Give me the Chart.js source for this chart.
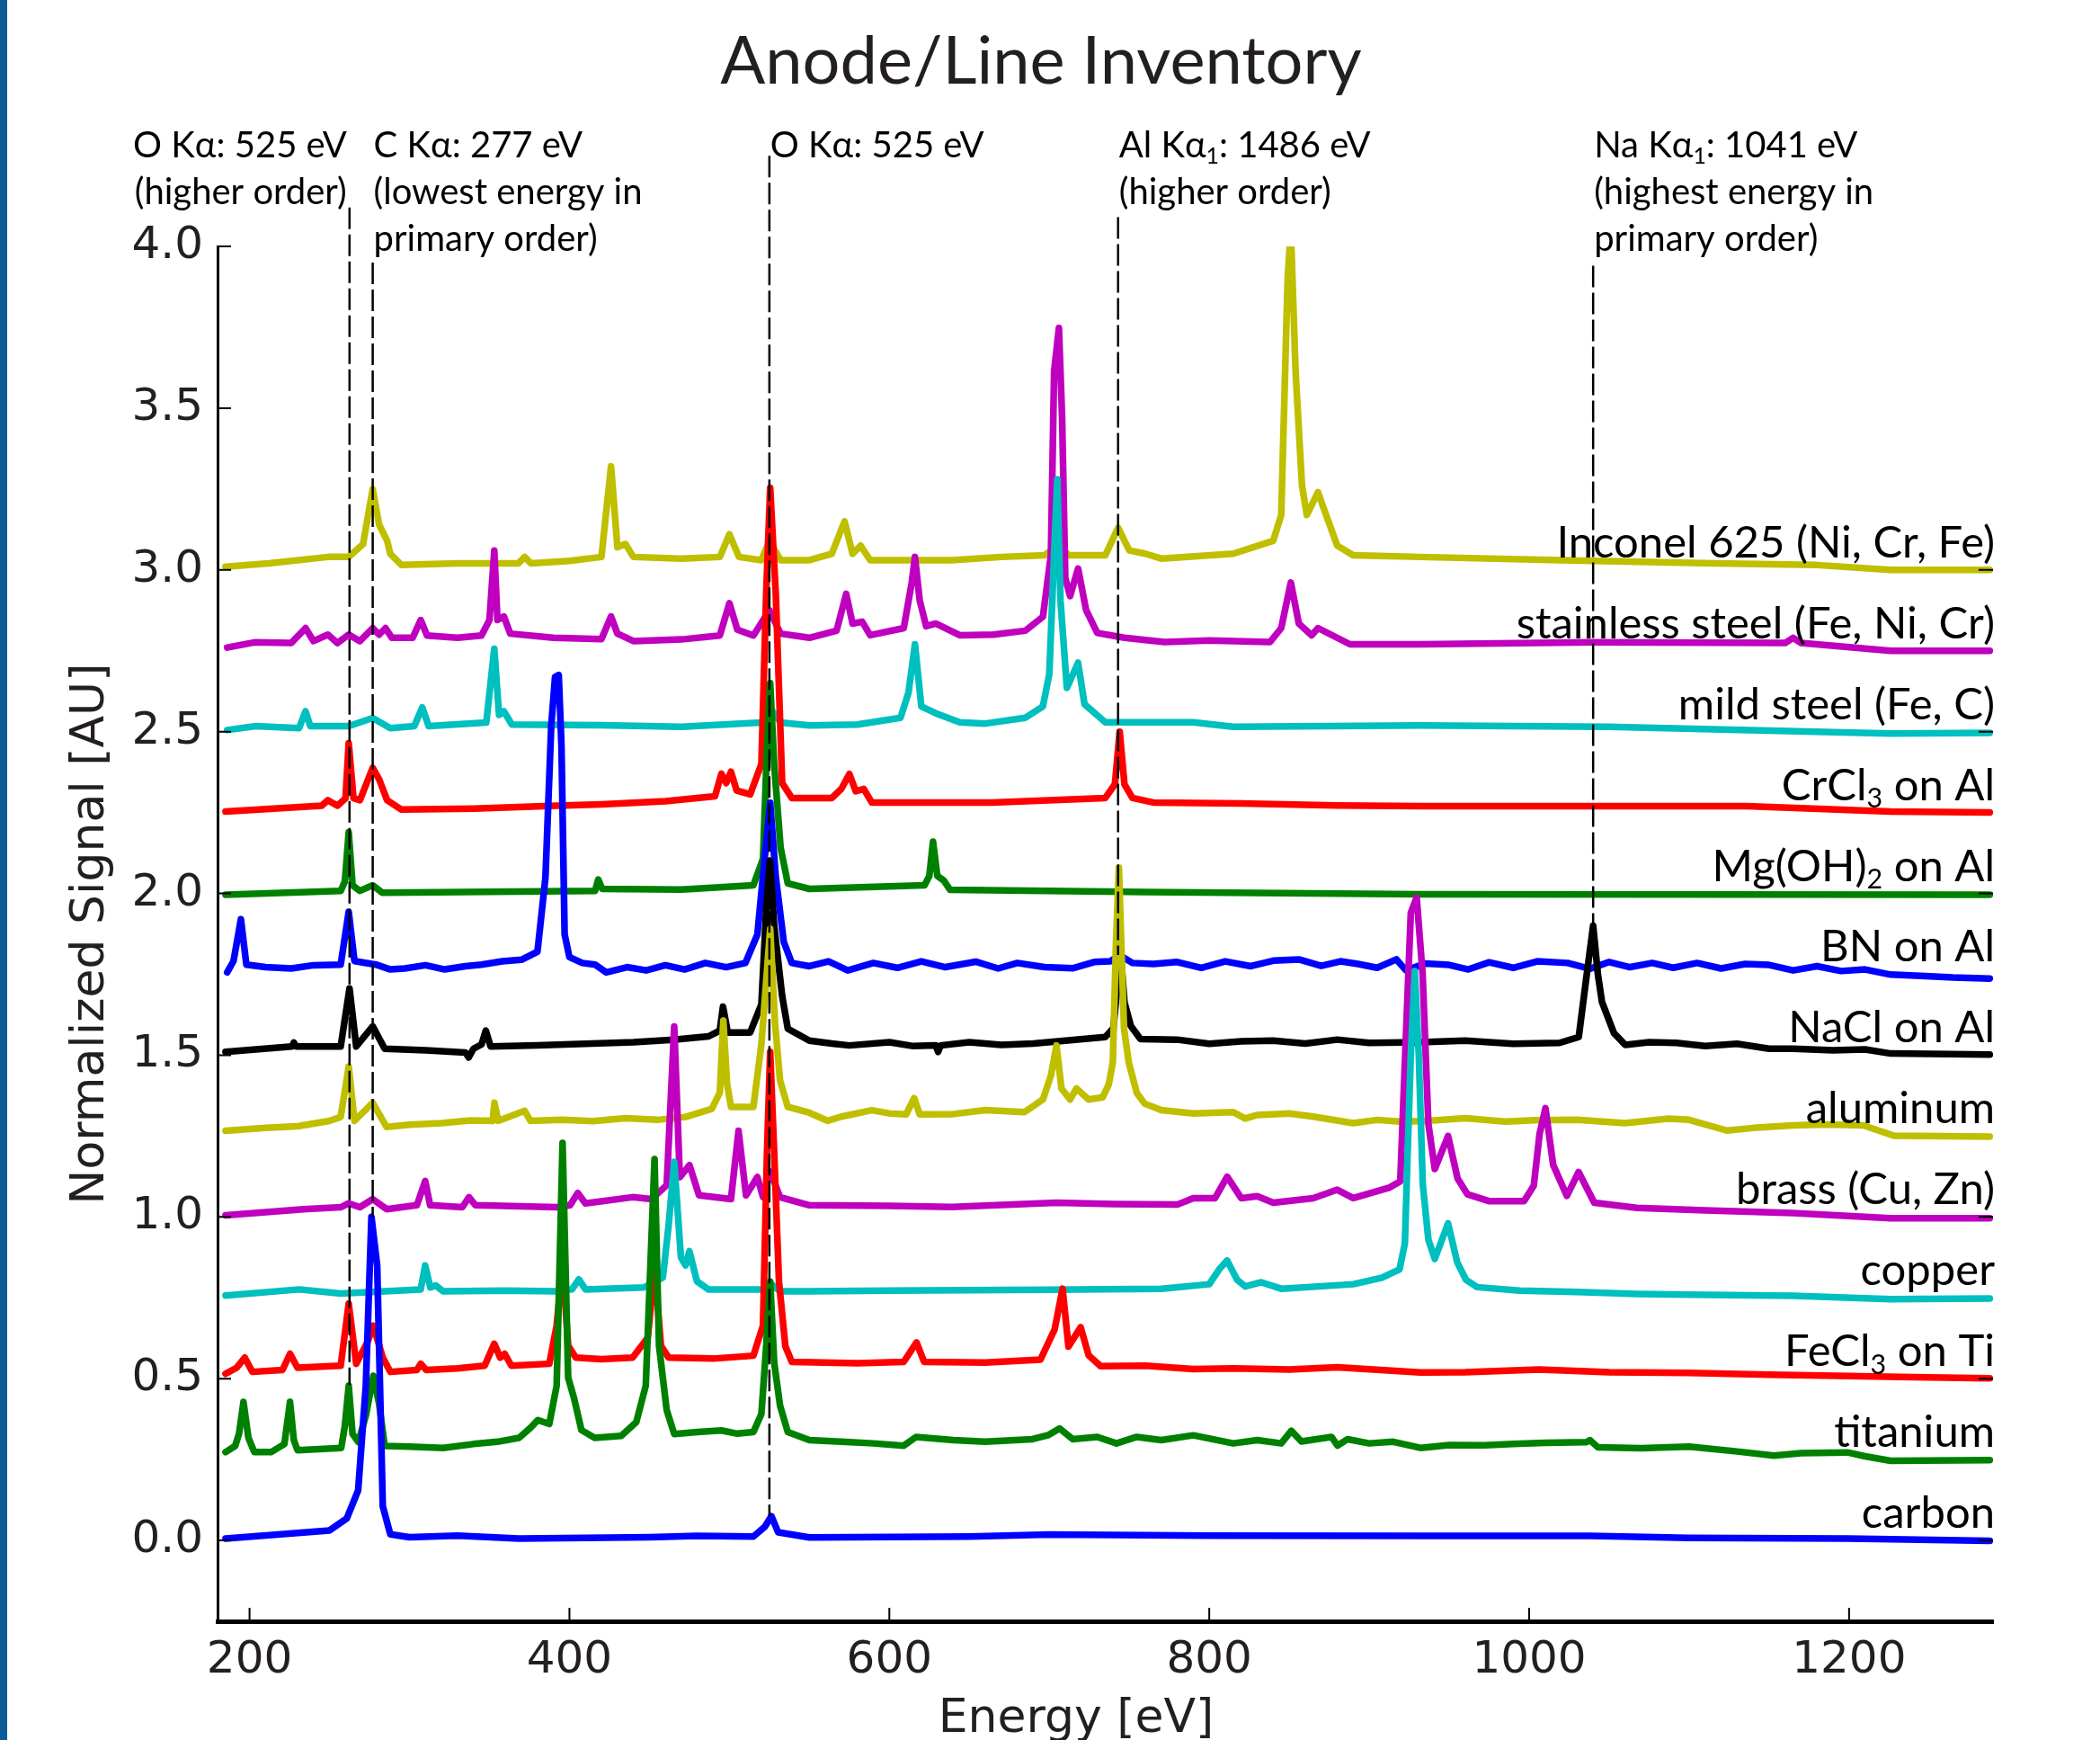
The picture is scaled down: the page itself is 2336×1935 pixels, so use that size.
<!DOCTYPE html>
<html>
<head>
<meta charset="utf-8">
<title>Anode/Line Inventory</title>
<script src="https://cdn.jsdelivr.net/npm/chart.js@4.4.1/dist/chart.umd.min.js"></script>
<style>
    html, body { margin: 0; padding: 0; background: #fff; }
    #wrap { position: relative; width: 2336px; height: 1935px; overflow: hidden; }
    #edge { position: absolute; left: 0; top: 0; width: 8px; height: 1935px; background: #0d5b97; }
    canvas { position: absolute; left: 0; top: 0; }
</style>
</head>
<body>
<div id="wrap">
    <canvas id="inventoryChart" width="2336" height="1935"></canvas>
    <div id="edge"></div>
</div>
<script>
// spectra as [energy eV, normalized signal] (offsets included)
const inconel = [[185,3.01],[212,3.02],[249,3.04],[262,3.04],[271,3.08],[277,3.25],[281,3.14],[286,3.09],[288,3.05],[295,3.015],
    [330,3.02],[368,3.02],[372,3.04],[376,3.02],[400,3.028],[420,3.04],[426,3.32],[430,3.07],[435,3.08],[440,3.04],[470,3.035],
    [494,3.04],[500,3.11],[506,3.04],[520,3.03],[525,3.09],[532,3.03],[550,3.03],[564,3.05],[572,3.15],[577,3.05],[582,3.075],
    [588,3.03],[639,3.03],[670,3.04],[697,3.045],[706,3.08],[712,3.045],[735,3.045],[743,3.13],[750,3.06],[760,3.05],[770,3.035],
    [815,3.05],[840,3.09],[845,3.17],[849,3.9],[851,4.05],[854,3.61],[858,3.26],[861,3.17],[868,3.24],[873,3.17],[880,3.075],
    [890,3.045],[932,3.04],[1020,3.03],[1116,3.02],[1180,3.015],[1226,3.0],[1288,3.0]];
const stainless = [[186,2.76],[203,2.776],[226,2.774],[235,2.82],[240,2.78],[249,2.8],[255,2.774],[262,2.8],[269,2.78],[277,2.82],
    [281,2.8],[285,2.82],[289,2.79],[302,2.79],[307,2.845],[311,2.797],[330,2.79],[345,2.797],[350,2.845],[353,3.06],[355,2.845],
    [359,2.856],[363,2.803],[390,2.79],[420,2.786],[426,2.856],[430,2.803],[440,2.78],[470,2.785],[494,2.797],[500,2.897],
    [505,2.815],[515,2.797],[525,2.875],[532,2.803],[550,2.79],[567,2.812],[573,2.926],[577,2.834],[583,2.84],[588,2.798],
    [609,2.82],[614,2.961],[616,3.04],[619,2.905],[623,2.826],[629,2.834],[644,2.798],[665,2.8],[685,2.812],[696,2.855],
    [701,3.046],[703,3.614],[706,3.748],[708,3.472],[710,2.975],[713,2.919],[718,3.004],[723,2.876],[730,2.805],[747,2.79],
    [772,2.777],[800,2.782],[838,2.777],[845,2.82],[851,2.961],[856,2.834],[864,2.798],[868,2.82],[888,2.77],[932,2.77],
    [1040,2.776],[1160,2.774],[1165,2.79],[1170,2.774],[1226,2.75],[1288,2.75]];
const mildSteel = [[186,2.505],[204,2.517],[231,2.511],[235,2.563],[238,2.517],[262,2.517],[277,2.542],[288,2.511],[303,2.517],
    [308,2.575],[312,2.517],[348,2.528],[353,2.756],[356,2.552],[359,2.563],[364,2.522],[420,2.52],[470,2.515],[520,2.528],
    [526,2.569],[532,2.528],[550,2.519],[580,2.522],[607,2.543],[612,2.621],[616,2.77],[620,2.578],[629,2.557],[644,2.529],
    [660,2.525],[685,2.543],[696,2.578],[700,2.678],[703,3.046],[705,3.28],[707,2.905],[711,2.635],[718,2.713],[722,2.585],
    [735,2.529],[790,2.529],[815,2.515],[932,2.519],[1050,2.515],[1226,2.494],[1288,2.496]];
const crcl3 = [[185,2.253],[245,2.271],[249,2.288],[255,2.271],[260,2.294],[262,2.464],[265,2.294],[269,2.288],[277,2.388],
    [281,2.353],[286,2.288],[295,2.259],[340,2.262],[392,2.271],[420,2.275],[460,2.285],[491,2.3],[495,2.37],[498,2.341],
    [501,2.376],[504.5,2.318],[513,2.306],[520,2.4],[523,2.926],[525.5,3.254],[529,2.926],[533,2.341],[539,2.295],[564,2.295],
    [570,2.323],[575,2.369],[579,2.316],[584,2.323],[589,2.281],[664,2.281],[735,2.295],[741,2.337],[744,2.5],[747,2.337],
    [752,2.295],[765,2.281],[820,2.278],[880,2.272],[932,2.27],[1136,2.27],[1226,2.253],[1288,2.25]];
const mgoh2 = [[185,1.996],[257,2.008],[259.6,2.037],[262,2.189],[264.4,2.025],[269,2.008],[277,2.025],[283,2.002],[350,2.005],
    [416,2.008],[418,2.043],[420.5,2.014],[470,2.012],[515,2.025],[521,2.107],[523.5,2.45],[525.5,2.65],[528,2.4],[532,2.142],
    [536.5,2.031],[550,2.014],[622,2.025],[625,2.054],[627.3,2.16],[630,2.054],[634,2.04],[638,2.011],[760,2.004],[932,1.997],
    [1288,1.996]];
const bn = [[186,1.756],[190,1.791],[194.6,1.92],[198,1.78],[210,1.772],[226,1.768],[240,1.778],[257,1.78],[262,1.943],
    [265.6,1.791],[279,1.78],[288,1.765],[297,1.768],[310,1.778],[322,1.765],[335,1.775],[345,1.78],[358,1.79],[370,1.795],
    [380,1.82],[385,2.049],[388.6,2.517],[391,2.669],[393.3,2.675],[395,2.458],[397,1.873],[400,1.803],[408,1.785],[416,1.78],
    [423,1.756],[436,1.772],[448,1.762],[460,1.778],[472,1.765],[485,1.785],[498,1.772],[510,1.785],[517.5,1.873],[522,2.107],
    [525.5,2.28],[529,2.05],[534,1.85],[539,1.785],[550,1.775],[562,1.79],[574,1.762],[590,1.785],[605,1.77],[620,1.79],
    [635,1.772],[654,1.789],[668,1.768],[680,1.785],[697,1.772],[715,1.769],[728,1.788],[738,1.79],[744,1.809],[752,1.785],
    [765,1.782],[780,1.788],[795,1.77],[810,1.79],[826,1.775],[840,1.792],[856,1.796],[870,1.776],[882,1.79],[893,1.782],
    [905,1.77],[917,1.796],[923,1.762],[935,1.783],[950,1.779],[962,1.765],[975,1.787],[990,1.77],[1005,1.79],[1024,1.785],
    [1038,1.767],[1050,1.788],[1063,1.772],[1077,1.785],[1090,1.77],[1105,1.785],[1120,1.768],[1135,1.782],[1150,1.779],
    [1165,1.762],[1180,1.775],[1195,1.76],[1210,1.765],[1226,1.749],[1245,1.745],[1265,1.74],[1288,1.737]];
const nacl = [[185,1.51],[226.5,1.527],[227.7,1.539],[229,1.527],[257,1.527],[262.5,1.706],[266.7,1.527],[277,1.589],
    [284.5,1.52],[310,1.515],[335,1.508],[337,1.493],[340,1.52],[345,1.533],[347.7,1.576],[350.7,1.527],[380,1.53],[410,1.535],
    [440,1.54],[465,1.548],[487,1.558],[494,1.576],[496,1.65],[499,1.57],[513,1.57],[520,1.657],[523,1.95],[525.3,2.1],[528,1.9],
    [533,1.682],[536.5,1.582],[550,1.545],[564,1.536],[575,1.53],[600,1.54],[615,1.528],[629,1.53],[630.5,1.51],[632,1.53],
    [650,1.54],[670,1.532],[690,1.536],[735,1.556],[740,1.583],[742.7,1.716],[744.7,1.809],[747,1.663],[751,1.59],[757,1.55],
    [780,1.548],[800,1.535],[820,1.543],[840,1.545],[860,1.536],[880,1.548],[900,1.538],[932,1.54],[960,1.545],[990,1.535],
    [1019,1.538],[1031,1.556],[1036,1.749],[1040,1.9],[1043,1.749],[1045.5,1.665],[1053,1.568],[1060,1.532],[1075,1.54],
    [1092,1.538],[1110,1.528],[1130,1.535],[1150,1.52],[1165,1.52],[1190,1.515],[1210,1.518],[1226,1.505],[1288,1.502]];
const aluminum = [[185,1.266],[210,1.275],[230,1.28],[250,1.297],[257,1.309],[262,1.465],[265.6,1.297],[277,1.353],[285.7,1.278],
    [300,1.285],[320,1.29],[338,1.298],[352,1.297],[353.1,1.353],[355.5,1.297],[372,1.328],[375.6,1.297],[395,1.3],[415,1.296],
    [435,1.305],[455,1.3],[472.6,1.309],[489,1.334],[494,1.384],[496.2,1.607],[498.6,1.409],[501,1.34],[515,1.34],[520,1.533],
    [525.5,1.89],[528.5,1.6],[531.7,1.421],[536.5,1.34],[550,1.322],[561.5,1.297],[570,1.31],[589,1.33],[600,1.32],
    [610.5,1.317],[615.5,1.367],[619,1.317],[640,1.318],[660,1.33],[684.5,1.324],[696,1.363],[701,1.437],[704.5,1.53],
    [707.6,1.397],[713,1.363],[717,1.397],[724.6,1.363],[733.4,1.37],[737.2,1.41],[739.7,1.477],[741.7,1.849],[743.5,2.08],
    [746.7,1.583],[749.7,1.477],[754.7,1.383],[759.7,1.35],[770,1.33],[790,1.32],[815,1.324],[822.5,1.304],[830,1.315],
    [850,1.32],[865,1.31],[890,1.29],[905,1.3],[921,1.294],[940,1.298],[960,1.305],[985,1.295],[1004,1.299],[1030,1.3],
    [1060,1.29],[1087,1.304],[1100,1.3],[1123.6,1.267],[1140,1.275],[1165,1.283],[1185,1.286],[1209,1.283],[1228,1.251],
    [1288,1.248]];
const brass = [[185,1.005],[233.6,1.024],[257,1.03],[262,1.042],[269,1.03],[277,1.055],[285.7,1.024],[304.6,1.036],
    [309.8,1.111],[312.9,1.036],[333,1.03],[337.2,1.061],[341.3,1.036],[392,1.03],[400.4,1.036],[405.2,1.074],[410,1.042],
    [439.5,1.061],[451.3,1.055],[460.8,1.098],[465.5,1.589],[469,1.123],[475,1.16],[481,1.067],[501,1.055],[505.7,1.266],
    [510.4,1.067],[517.5,1.123],[521,1.061],[525.5,1.14],[531.7,1.061],[550,1.036],[600,1.034],[639,1.031],[704.5,1.044],
    [740,1.04],[780,1.038],[790,1.058],[803.6,1.058],[811.2,1.124],[820,1.058],[830,1.064],[840,1.044],[865,1.058],[880,1.084],
    [890,1.058],[912.8,1.091],[919.4,1.11],[923,1.565],[926,1.94],[929.7,1.987],[933.4,1.75],[937,1.287],[941,1.148],
    [949.3,1.25],[955.3,1.118],[961.4,1.07],[974.8,1.049],[996.8,1.049],[1002.9,1.097],[1006.5,1.256],[1010.2,1.336],
    [1015,1.161],[1023.6,1.065],[1030.9,1.139],[1040.7,1.044],[1067.5,1.028],[1110,1.02],[1165,1.012],[1226,0.996],[1288,0.996]];
const copper = [[185,0.757],[231,0.776],[257,0.763],[307,0.776],[309.8,0.85],[313,0.782],[316.4,0.788],[321,0.77],[360,0.772],
    [392,0.77],[401.6,0.776],[405.9,0.807],[410,0.776],[446.5,0.782],[458.4,0.813],[462,0.974],[465.5,1.17],[469.7,0.875],
    [472.6,0.85],[475,0.894],[479.7,0.801],[486.8,0.776],[520,0.776],[525.8,0.794],[531.7,0.77],[550,0.77],[600,0.772],
    [700,0.775],[770,0.778],[800,0.792],[806.2,0.838],[811.2,0.865],[817.5,0.805],[822.5,0.785],[832.5,0.798],[845,0.778],
    [890,0.792],[908,0.812],[919,0.838],[922.3,0.918],[924,1.194],[926,1.5],[928.5,1.76],[931,1.5],[933.5,1.1],[937,0.93],
    [941,0.87],[949.3,0.98],[955,0.86],[960.6,0.805],[967.5,0.783],[994,0.772],[1030,0.768],[1067.5,0.762],[1100,0.76],
    [1165,0.756],[1226,0.746],[1288,0.748]];
const fecl3 = [[185,0.515],[192,0.534],[197,0.565],[201.7,0.521],[220.6,0.527],[225.3,0.577],[230,0.534],[257,0.54],[262,0.732],
    [266.7,0.546],[273.8,0.614],[277.4,0.664],[283.3,0.565],[288,0.521],[304.6,0.527],[307,0.546],[310.5,0.527],[330,0.532],
    [347,0.54],[353,0.608],[356.7,0.565],[359.5,0.577],[363.7,0.54],[387.4,0.546],[392,0.664],[395.7,0.856],[399.2,0.602],
    [404,0.565],[420,0.56],[439.5,0.565],[449,0.627],[453.2,0.85],[457.2,0.602],[462,0.565],[490,0.562],[515,0.571],[521,0.664],
    [523.5,1.2],[525.5,1.51],[528,1.2],[531,0.8],[535,0.6],[539,0.552],[580,0.548],[609,0.552],[617,0.612],[621.7,0.552],
    [660,0.55],[694.5,0.559],[703.3,0.652],[708.3,0.778],[712,0.599],[719.6,0.659],[724.6,0.572],[732,0.539],[760,0.54],
    [790,0.53],[815,0.532],[850,0.528],[880,0.535],[932,0.519],[960,0.52],[1006,0.528],[1050,0.52],[1100,0.518],[1150,0.512],
    [1200,0.508],[1240,0.505],[1288,0.501]];
const titanium = [[185,0.273],[191,0.292],[193.4,0.329],[196.2,0.428],[199.3,0.317],[203,0.273],[213.5,0.273],[221.8,0.298],
    [225.3,0.428],[227.7,0.31],[230,0.279],[257.3,0.286],[259.6,0.354],[262,0.478],[264.4,0.329],[268,0.304],[272.7,0.385],
    [277.4,0.509],[281,0.422],[284.5,0.292],[300,0.29],[321,0.286],[340,0.298],[355,0.305],[368.5,0.317],[375.6,0.348],
    [380.3,0.372],[387.4,0.36],[392,0.478],[395.7,1.229],[399.2,0.503],[402.8,0.441],[407.5,0.341],[415.8,0.317],[432.4,0.323],
    [441.8,0.366],[447.7,0.478],[453.2,1.179],[456,0.602],[460.8,0.403],[465.5,0.329],[480,0.335],[495,0.34],[505,0.33],
    [515,0.335],[520,0.391],[523,0.6],[525.5,0.8],[528,0.55],[531.7,0.416],[536.5,0.335],[550,0.31],[570,0.305],[590,0.3],
    [609,0.293],[616.7,0.32],[640,0.31],[660,0.305],[689.5,0.313],[699.5,0.326],[706.5,0.346],[714.6,0.313],[730,0.32],
    [742,0.3],[754.7,0.32],[770,0.31],[790,0.325],[815,0.3],[830,0.31],[845,0.3],[851.3,0.339],[857.6,0.306],[876.4,0.32],
    [880.2,0.293],[886.5,0.313],[900,0.3],[915,0.305],[932,0.286],[950,0.295],[972,0.294],[990,0.298],[1010,0.302],
    [1035.8,0.304],[1038,0.31],[1043,0.288],[1070,0.285],[1100,0.29],[1130,0.275],[1153,0.262],[1170,0.27],[1199,0.272],
    [1210,0.26],[1226,0.246],[1288,0.248]];
const carbon = [[185,0.006],[250,0.031],[260.8,0.068],[267.9,0.155],[272.7,0.478],[276.2,1.0],[279.8,0.85],[283.3,0.106],
    [288,0.019],[300,0.01],[330,0.015],[368.5,0.006],[450,0.01],[480,0.014],[515,0.012],[522.3,0.043],[526.3,0.075],
    [530.5,0.025],[550,0.009],[650,0.012],[700,0.018],[800,0.015],[932,0.014],[1038,0.014],[1100,0.008],[1200,0.006],
    [1288,-0.001]];

// top to bottom as stacked in the figure
const spectra = [inconel, stainless, mildSteel, crcl3, mgoh2, bn, nacl, aluminum, brass, copper, fecl3, titanium, carbon];
const sampleNames = ['Inconel 625 (Ni, Cr, Fe)', 'stainless steel (Fe, Ni, Cr)', 'mild steel (Fe, C)', 'CrCl_3 on Al',
    'Mg(OH)_2 on Al', 'BN on Al', 'NaCl on Al', 'aluminum', 'brass (Cu, Zn)', 'copper', 'FeCl_3 on Ti', 'titanium', 'carbon'];
const sampleColors = ['#bfbf00', '#bf00bf', '#00bfbf', '#ff0000', '#008000', '#0000ff', '#000000',
    '#bfbf00', '#bf00bf', '#00bfbf', '#ff0000', '#008000', '#0000ff'];
const labelLevels = [3.0, 2.75, 2.5, 2.25, 2.0, 1.75, 1.5, 1.25, 1.0, 0.75, 0.5, 0.25, 0.0];

// reference lines
const markerEnergy = [262.5, 277, 525, 743, 1040];
const markerTop = [4.12, 3.95, 4.28, 4.09, 3.94];
const markerBottom = [0.48, 1.0, 0.075, 1.81, 1.9];
const markerText = [
    ['O Kα: 525 eV', '(higher order)'],
    ['C Kα: 277 eV', '(lowest energy in', 'primary order)'],
    ['O Kα: 525 eV'],
    ['Al Kα_1: 1486 eV', '(higher order)'],
    ['Na Kα_1: 1041 eV', '(highest energy in', 'primary order)']
];
const markerAlign = ['right', 'left', 'left', 'left', 'left'];

const xTicks = [200, 400, 600, 800, 1000, 1200];
const yTicks = [0, 0.5, 1.0, 1.5, 2.0, 2.5, 3.0, 3.5, 4.0];
const rightTicks = [0, 0.5, 1.0, 1.5, 2.0, 2.5, 3.0];

const inkColor = '#231f20';
const labelFont = 'Lato, "Open Sans", sans-serif';
const axisFont = '"DejaVu Sans", sans-serif';

// text with "_n" subscripts
function drawRichText(ctx, text, x, y, size, align) {
    const parts = text.split(/_(\d)/);
    const subSize = size * 0.62;
    let width = 0;
    parts.forEach((p, i) => {
        ctx.font = `${i % 2 ? subSize : size}px ${labelFont}`;
        width += ctx.measureText(p).width;
    });
    let cx = align === 'right' ? x - width : x;
    ctx.textAlign = 'left';
    ctx.textBaseline = 'alphabetic';
    parts.forEach((p, i) => {
        const sub = i % 2 === 1;
        ctx.font = `${sub ? subSize : size}px ${labelFont}`;
        ctx.fillText(p, cx, sub ? y + size * 0.18 : y);
        cx += ctx.measureText(p).width;
    });
}

const overlayPlugin = {
    id: 'overlay',
    afterDatasetsDraw(chart) {
        const { ctx, chartArea, scales: { x, y } } = chart;
        ctx.save();

        // inward tick marks
        ctx.strokeStyle = '#000';
        ctx.lineWidth = 2;
        ctx.beginPath();
        yTicks.forEach(v => {
            const py = y.getPixelForValue(v);
            ctx.moveTo(chartArea.left, py);
            ctx.lineTo(chartArea.left + 15, py);
        });
        rightTicks.forEach(v => {
            const py = y.getPixelForValue(v);
            ctx.moveTo(chartArea.right, py);
            ctx.lineTo(chartArea.right - 16, py);
        });
        xTicks.forEach(v => {
            const px = x.getPixelForValue(v);
            ctx.moveTo(px, chartArea.bottom);
            ctx.lineTo(px, chartArea.bottom - 15);
        });
        ctx.stroke();

        // dashed reference lines
        ctx.setLineDash([24, 6]);
        ctx.lineWidth = 2.5;
        markerEnergy.forEach((e, i) => {
            const px = x.getPixelForValue(e);
            ctx.beginPath();
            ctx.moveTo(px, y.getPixelForValue(markerTop[i]));
            ctx.lineTo(px, y.getPixelForValue(markerBottom[i]));
            ctx.stroke();
        });
        ctx.setLineDash([]);

        // reference line notes
        ctx.fillStyle = '#000';
        markerEnergy.forEach((e, i) => {
            const px = x.getPixelForValue(e);
            const tx = markerAlign[i] === 'right' ? px - 3 : px + 1;
            markerText[i].forEach((line, row) => {
                drawRichText(ctx, line, tx, chartArea.top - 99 + row * 52, 40, markerAlign[i]);
            });
        });

        // sample names at the right end of each trace
        sampleNames.forEach((name, i) => {
            drawRichText(ctx, name, chartArea.right + 2, y.getPixelForValue(labelLevels[i]) - 14, 49, 'right');
        });

        // figure title and energy axis title
        ctx.fillStyle = inkColor;
        ctx.font = `74px ${labelFont}`;
        ctx.textAlign = 'center';
        ctx.textBaseline = 'alphabetic';
        ctx.fillText('Anode/Line Inventory', 1158, 93);
        ctx.font = `52px ${axisFont}`;
        ctx.textBaseline = 'middle';
        ctx.fillText('Energy [eV]', 1197, 1912);
        ctx.restore();
    }
};

const ctx = document.getElementById('inventoryChart').getContext('2d');
const inventoryChart = new Chart(ctx, {
    type: 'line',
    data: {
        datasets: spectra.map((pts, i) => ({
            label: sampleNames[i],
            data: pts.map(([e, s]) => ({ x: e, y: s })),
            borderColor: sampleColors[i],
            backgroundColor: sampleColors[i],
            borderWidth: 7.5,
            borderJoinStyle: 'round',
            borderCapStyle: 'round',
            pointRadius: 0,
            tension: 0,
            fill: false,
            order: spectra.length - i
        }))
    },
    options: {
        responsive: false,
        animation: false,
        layout: { padding: { left: 0, right: 119, top: 274, bottom: 0 } },
        plugins: {
            legend: { display: false },
            title: { display: false },
            tooltip: { enabled: false }
        },
        scales: {
            x: {
                type: 'linear',
                position: 'bottom',
                min: 180,
                max: 1290,
                afterBuildTicks: s => { s.ticks = xTicks.map(v => ({ value: v })); },
                afterFit: s => { s.height = 132; },
                ticks: {
                    callback: v => String(v),
                    font: { family: axisFont, size: 50 },
                    color: inkColor,
                    padding: 14,
                    maxRotation: 0
                },
                grid: { display: false, drawTicks: false },
                border: { display: true, color: '#000', width: 5 },
                title: { display: false }
            },
            y: {
                type: 'linear',
                min: -0.25,
                max: 4.0,
                afterBuildTicks: s => { s.ticks = yTicks.map(v => ({ value: v })); },
                afterFit: s => { s.width = 242; },
                ticks: {
                    callback: v => v.toFixed(1),
                    font: { family: axisFont, size: 50 },
                    color: inkColor,
                    padding: 16
                },
                grid: { display: false, drawTicks: false },
                border: { display: true, color: '#000', width: 3 },
                title: {
                    display: true,
                    text: 'Normalized Signal [AU]',
                    font: { family: axisFont, size: 52, lineHeight: 1.2 },
                    color: inkColor,
                    padding: { top: 70, bottom: 0 }
                }
            }
        }
    },
    plugins: [overlayPlugin]
});
</script>
</body>
</html>
